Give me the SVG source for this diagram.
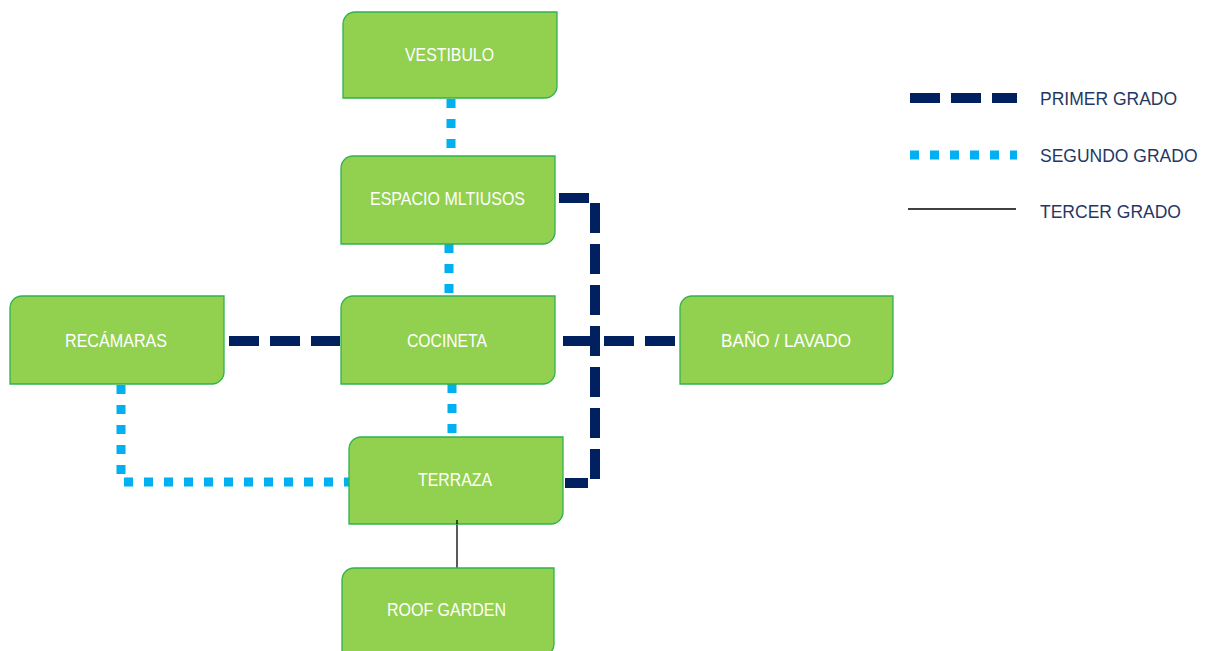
<svg xmlns="http://www.w3.org/2000/svg" width="1214" height="651" viewBox="0 0 1214 651">
<style>
.node{fill:#92D050;stroke:#2EB34F;stroke-width:1.3}
.lbl{font-family:"Liberation Sans",Arial,sans-serif;font-size:18px;fill:#FFFFFF;text-anchor:middle;dominant-baseline:central}
.c1{fill:none;stroke:#002060;stroke-width:10;stroke-dasharray:30 11}
.c2{fill:none;stroke:#00B0F0;stroke-width:9;stroke-dasharray:9 11}
.c3{fill:none;stroke:#000000;stroke-width:1.3}
.leg{font-family:"Liberation Sans",Arial,sans-serif;font-size:17.5px;fill:#1F3864;dominant-baseline:central}
</style>
<rect width="1214" height="651" fill="#FFFFFF"/>
<g id="connectors">
<path class="c2" d="M451 99 V156"/>
<path class="c2" d="M449 244 V296"/>
<path class="c2" d="M452 384 V437"/>
<path class="c2" d="M121 385 V482 H349"/>
<path class="c1" d="M229 341 H340"/>
<path class="c1" d="M563 341 H680"/>
<path class="c1" d="M559 198 H595 V483 H565"/>
<path class="c3" d="M457 520 V568"/>
</g>
<g id="vestibulo">
<path class="node" d="M355 12 H557 V86 A12 12 0 0 1 545 98 H343 V24 A12 12 0 0 1 355 12 Z"/>
<text class="lbl" x="449.5" y="55" textLength="89" lengthAdjust="spacingAndGlyphs">VESTIBULO</text>
</g>
<g id="espacio">
<path class="node" d="M353 156 H555 V232 A12 12 0 0 1 543 244 H341 V168 A12 12 0 0 1 353 156 Z"/>
<text class="lbl" x="447.5" y="199" textLength="155" lengthAdjust="spacingAndGlyphs">ESPACIO MLTIUSOS</text>
</g>
<g id="recamaras">
<path class="node" d="M22 296 H224 V372 A12 12 0 0 1 212 384 H10 V308 A12 12 0 0 1 22 296 Z"/>
<text class="lbl" x="116" y="341" textLength="102" lengthAdjust="spacingAndGlyphs">RECÁMARAS</text>
</g>
<g id="cocineta">
<path class="node" d="M353 296 H555 V372 A12 12 0 0 1 543 384 H341 V308 A12 12 0 0 1 353 296 Z"/>
<text class="lbl" x="447" y="341" textLength="80" lengthAdjust="spacingAndGlyphs">COCINETA</text>
</g>
<g id="bano">
<path class="node" d="M692 296 H893 V372 A12 12 0 0 1 881 384 H680 V308 A12 12 0 0 1 692 296 Z"/>
<text class="lbl" x="786" y="341" textLength="130" lengthAdjust="spacingAndGlyphs">BAÑO / LAVADO</text>
</g>
<g id="terraza">
<path class="node" d="M361 437 H563 V512 A12 12 0 0 1 551 524 H349 V449 A12 12 0 0 1 361 437 Z"/>
<text class="lbl" x="455" y="480" textLength="74" lengthAdjust="spacingAndGlyphs">TERRAZA</text>
</g>
<path class="c3" d="M457 520 V524"/>
<g id="roofgarden">
<path class="node" d="M354 568 H554 V644 A12 12 0 0 1 542 656 H342 V580 A12 12 0 0 1 354 568 Z"/>
<text class="lbl" x="446.5" y="610" textLength="119" lengthAdjust="spacingAndGlyphs">ROOF GARDEN</text>
</g>
<g id="legend">
<path class="c1" d="M910 98 H1017"/>
<text class="leg" x="1040" y="99">PRIMER GRADO</text>
<path class="c2" d="M910 155 H1017"/>
<text class="leg" x="1040" y="156">SEGUNDO GRADO</text>
<path class="c3" d="M908 209 H1016"/>
<text class="leg" x="1040" y="212">TERCER GRADO</text>
</g>
</svg>
